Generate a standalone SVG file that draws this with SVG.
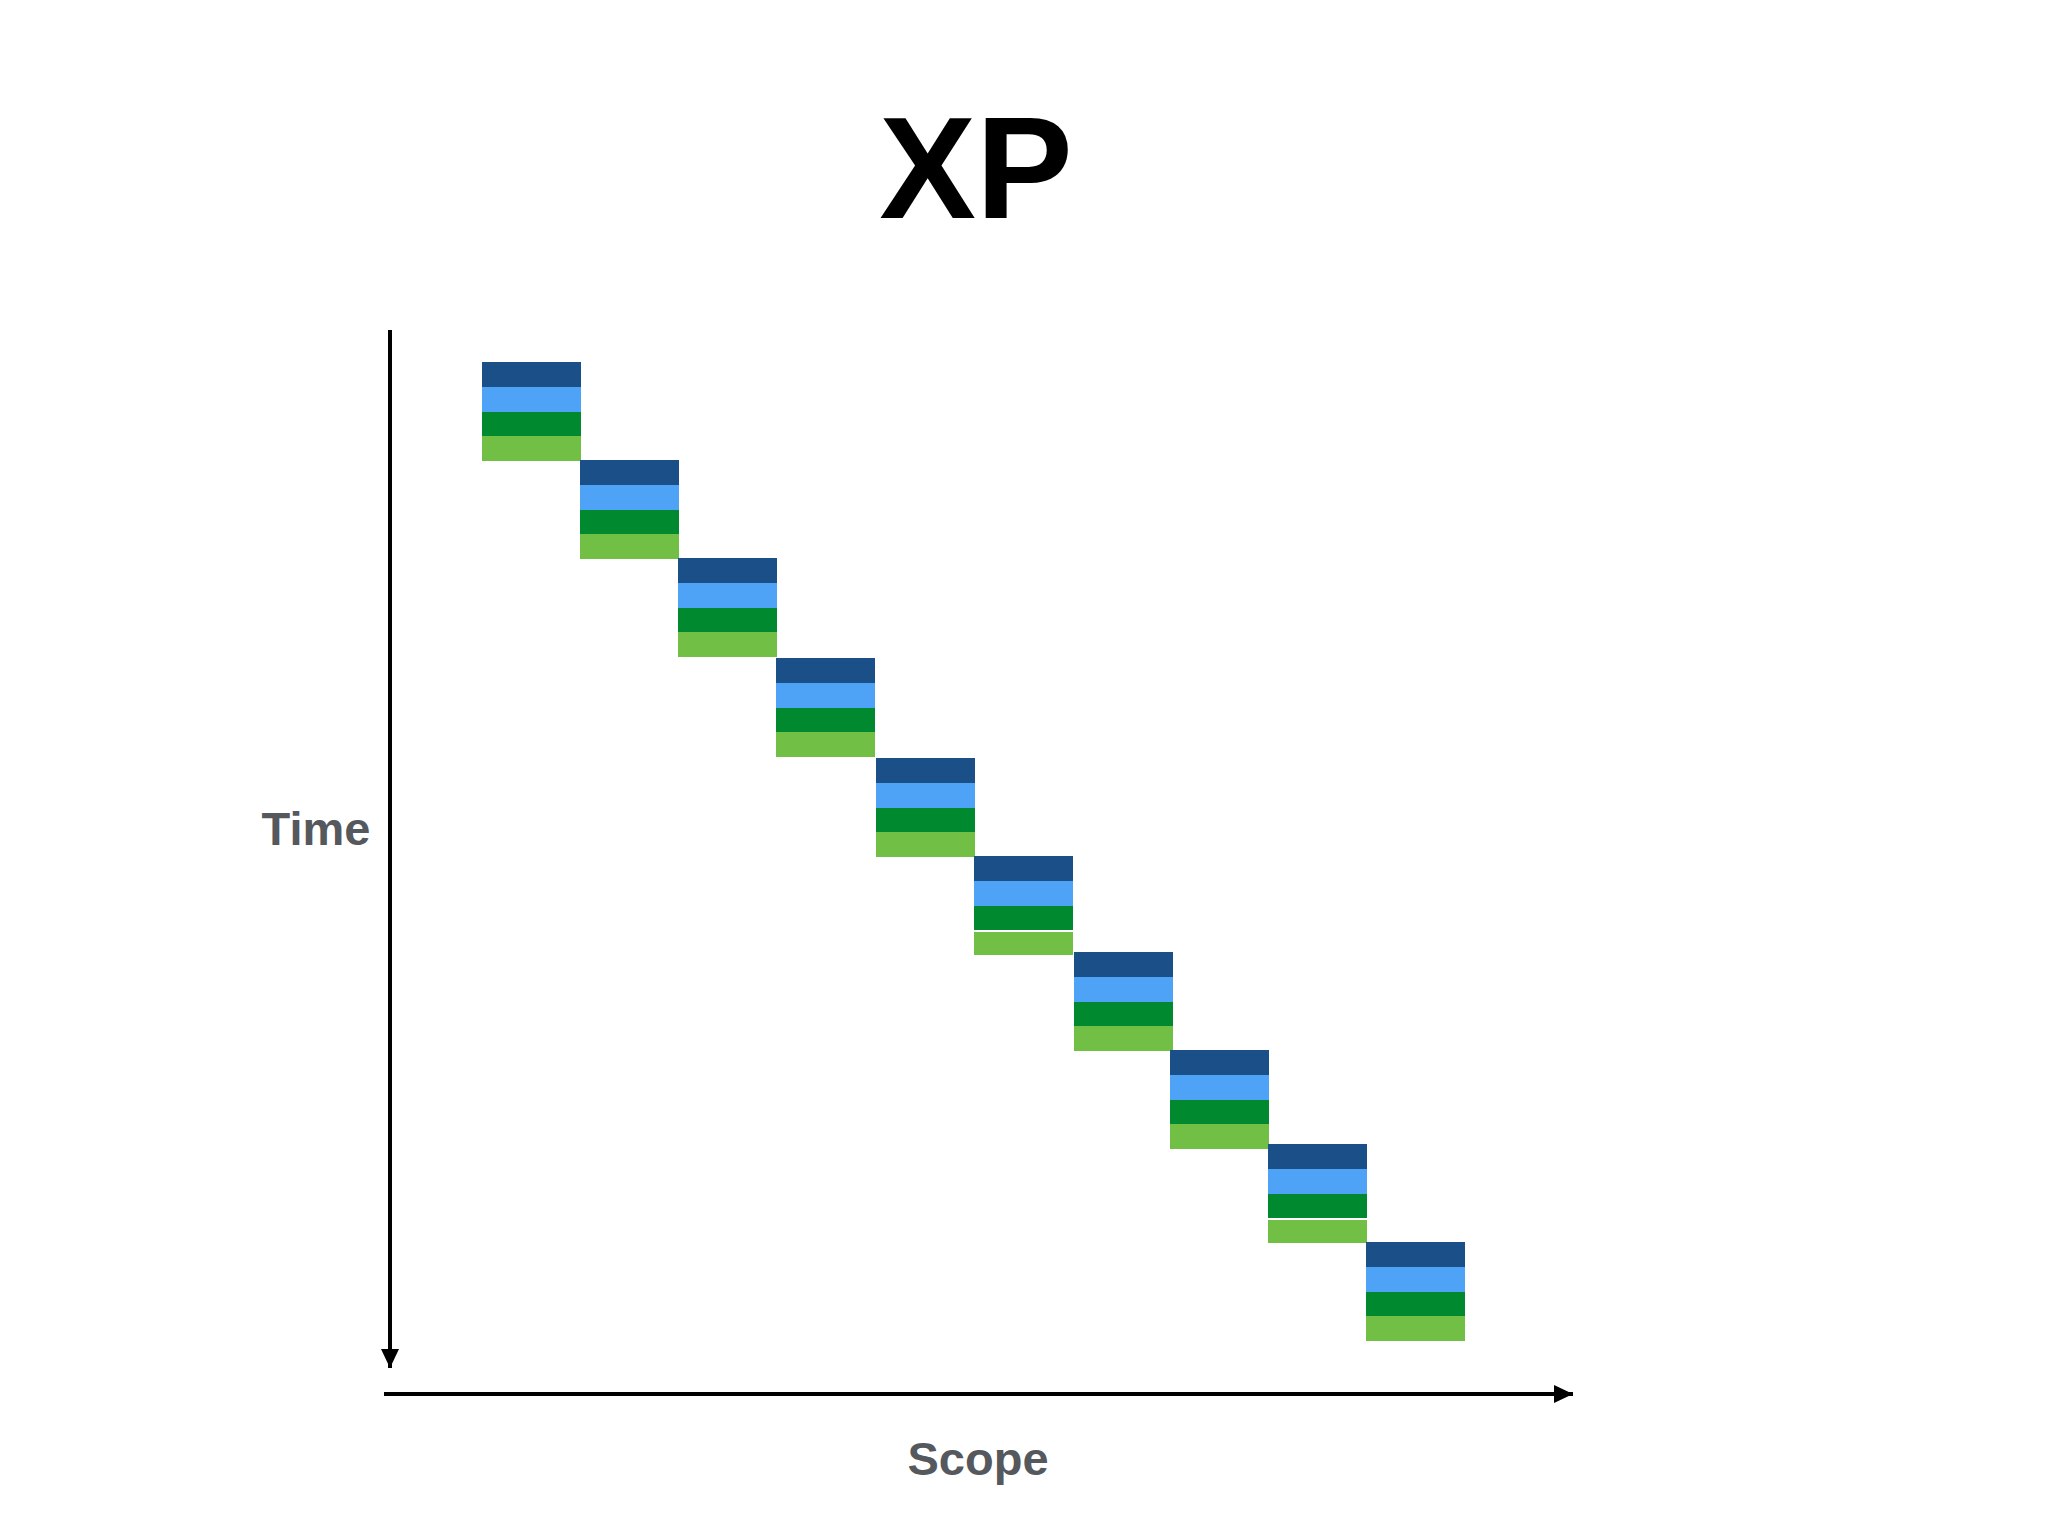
<svg xmlns="http://www.w3.org/2000/svg" width="2048" height="1536" viewBox="0 0 2048 1536">
<style>
.b1{fill:#1a5087}.b2{fill:#4ea3f6}.b3{fill:#00892e}.b4{fill:#71bf44}
.axis{stroke:#000;stroke-width:4;fill:none}
.lbl{font-family:"Liberation Sans",Arial,sans-serif;font-weight:bold;fill:#55585d}
.title{font-family:"Liberation Sans",Arial,sans-serif;font-weight:bold;fill:#000}
</style>
<defs>
<marker id="ah" markerUnits="userSpaceOnUse" markerWidth="20" markerHeight="20" refX="19" refY="9" orient="auto">
<path d="M0,0 L19,9 L0,18 Z" fill="#000"/>
</marker>
<g id="blk">
<rect class="b1" x="0" y="0" width="99" height="25"/>
<rect class="b2" x="0" y="25" width="99" height="25"/>
<rect class="b3" x="0" y="50" width="99" height="24"/>
<rect class="b4" x="0" y="74" width="99" height="25"/>
</g>
</defs>
<rect width="2048" height="1536" fill="#fff"/>
<text class="title" x="976" y="218" font-size="145" text-anchor="middle">XP</text>
<text class="lbl" x="316" y="845" font-size="47" text-anchor="middle">Time</text>
<text class="lbl" x="978" y="1475" font-size="47" text-anchor="middle">Scope</text>
<g id="connectors">
<line class="axis" x1="390" y1="330" x2="390" y2="1368" marker-end="url(#ah)"/>
<line class="axis" x1="384" y1="1394" x2="1573" y2="1394" marker-end="url(#ah)"/>
</g>
<g id="block1"><use href="#blk" x="482" y="362"/></g>
<g id="block2"><use href="#blk" x="580" y="460"/></g>
<g id="block3"><use href="#blk" x="678" y="558"/></g>
<g id="block4"><use href="#blk" x="776" y="658"/></g>
<g id="block5"><use href="#blk" x="876" y="758"/></g>
<g id="block6"><use href="#blk" x="974" y="856"/><rect x="974" y="930" width="99" height="2" fill="#fff"/></g>
<g id="block7"><use href="#blk" x="1074" y="952"/></g>
<g id="block8"><use href="#blk" x="1170" y="1050"/></g>
<g id="block9"><use href="#blk" x="1268" y="1144"/><rect x="1268" y="1218" width="99" height="2" fill="#fff"/></g>
<g id="block10"><use href="#blk" x="1366" y="1242"/></g>
</svg>
